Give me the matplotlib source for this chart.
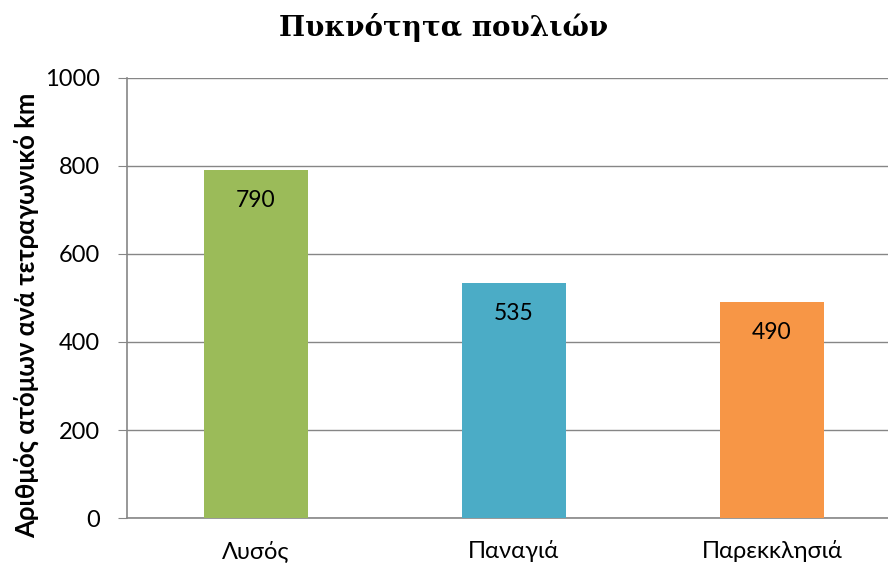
import matplotlib.pyplot as plt

# data
categories = ['Λυσός', 'Παναγιά', 'Παρεκκλησιά']
values = [790, 535, 490]
colors = ['#9BBB59', '#4BACC6', '#F79646']
yticks = [0, 200, 400, 600, 800, 1000]

plt.rcParams['font.family'] = ['Lato', 'DejaVu Sans']

fig = plt.figure(figsize=(8.88, 5.66), dpi=100)
ax = fig.add_axes([0.143, 0.0848, 0.857, 0.7774])

x = range(len(categories))
ax.bar(x, values, width=0.40, color=colors, zorder=3)

for i, v in enumerate(values):
    ax.annotate(str(v), (i, v), xytext=(0, -22), textcoords='offset points',
                ha='center', va='center', fontsize=16.5, color='black', zorder=4)

ax.set_xlim(-0.5, 2.45)
ax.set_ylim(0, 1000)
ax.set_yticks(yticks)
ax.set_xticks(list(x))
ax.set_xticklabels(categories, fontsize=17)
ax.tick_params(axis='y', labelsize=17, length=6.5, color='#868686', pad=13)
ax.tick_params(axis='x', length=0, pad=16)

ax.yaxis.grid(True, color='#868686', linewidth=1, zorder=0)
for s in ['top', 'right']:
    ax.spines[s].set_visible(False)
for s in ['left', 'bottom']:
    ax.spines[s].set_color('#868686')
    ax.spines[s].set_linewidth(1.2)

ax.set_ylabel('Αριθμός ατόμων ανά τετραγωνικό km', fontsize=18.5, fontweight='bold')
ax.yaxis.set_label_coords(-0.116, 0.46)
fig.text(0.5, 0.952, 'Πυκνότητα πουλιών', ha='center', va='center',
         fontsize=20, fontweight='bold', family=['DejaVu Serif'])

fig.savefig('out.png', dpi=100)
